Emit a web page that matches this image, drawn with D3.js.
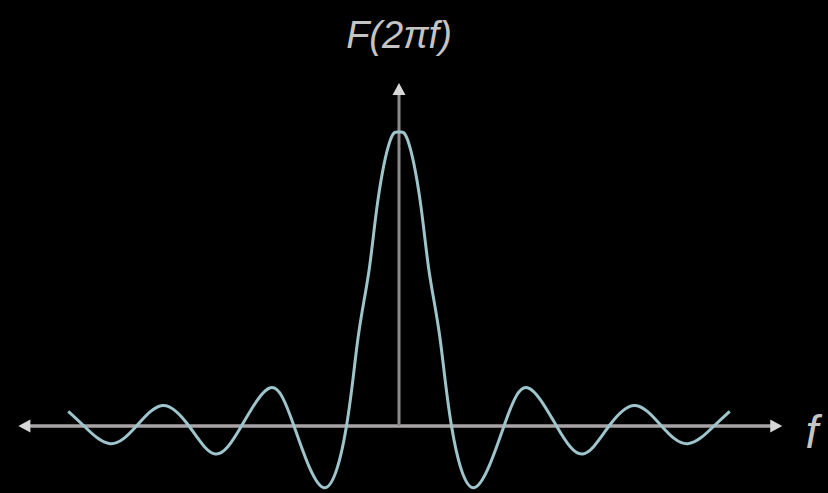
<!DOCTYPE html>
<html>
<head>
<meta charset="utf-8">
<script src="https://cdn.jsdelivr.net/npm/d3@7"></script>
<style>
  html, body { margin: 0; padding: 0; background: #000; }
  svg { display: block; }
</style>
</head>
<body>
<div id="chart"></div>
<script>
// frequency in units of the first zero, amplitude relative to the peak
const freq = [-6.3, -6.0, -5.5, -5.0, -4.5, -4.0, -3.5, -3.0, -2.45, -2.0, -1.43, -1.0,
  -0.78, -0.57, -0.4, -0.17, 0, 0.17, 0.4, 0.57, 0.78, 1.0,
  1.43, 2.0, 2.45, 3.0, 3.5, 4.0, 4.5, 5.0, 5.5, 6.0, 6.3];
const amp = [0.05, 0, -0.06, 0, 0.07, 0, -0.095, 0, 0.13, 0, -0.21, 0,
  0.30, 0.53, 0.77, 0.97, 1.0, 0.97, 0.77, 0.53, 0.30, 0,
  -0.21, 0, 0.13, 0, -0.095, 0, 0.07, 0, -0.06, 0, 0.05];

const xAxisExtent = [-7.25, 7.3];
const yAxisTop = 1.167;
const yLabel = 'F(2πf)';
const xLabel = 'f';

const width = 828;
const height = 493;

const svg = d3.select('#chart')
  .append('svg')
  .attr('width', width)
  .attr('height', height)
  .style('background', '#000');

const x = d3.scaleLinear()
  .domain([-1, 1])
  .range([399 - 52.5, 399 + 52.5]);

const y = d3.scaleLinear()
  .domain([0, 1])
  .range([426, 132]);

const axisColor = '#aaa4a6';
const headColor = '#d8d8d8';

// horizontal axis
svg.append('line')
  .attr('x1', x(xAxisExtent[0]) + 6)
  .attr('x2', x(xAxisExtent[1]) - 6)
  .attr('y1', y(0))
  .attr('y2', y(0))
  .attr('stroke', axisColor)
  .attr('stroke-width', 3.5);

// vertical axis
svg.append('line')
  .attr('x1', x(0))
  .attr('x2', x(0))
  .attr('y1', y(0))
  .attr('y2', y(yAxisTop) + 6)
  .attr('stroke', '#8d8a8e')
  .attr('stroke-width', 3);

// arrow heads
const arrow = (tx, ty, dir) => {
  const s = 12, w = 6.5;
  let pts;
  if (dir === 'left') pts = [[tx, ty], [tx + s, ty - w], [tx + s, ty + w]];
  if (dir === 'right') pts = [[tx, ty], [tx - s, ty - w], [tx - s, ty + w]];
  if (dir === 'up') pts = [[tx, ty], [tx - w, ty + s], [tx + w, ty + s]];
  svg.append('path')
    .attr('d', d3.line()(pts) + 'Z')
    .attr('fill', headColor);
};
arrow(x(xAxisExtent[0]), y(0), 'left');
arrow(x(xAxisExtent[1]), y(0), 'right');
arrow(x(0), y(yAxisTop), 'up');

// the curve
const data = freq.map((f, i) => ({ f, a: amp[i] }));
svg.append('path')
  .datum(data)
  .attr('fill', 'none')
  .attr('stroke', '#9ec4cc')
  .attr('stroke-width', 3)
  .attr('stroke-linejoin', 'round')
  .attr('d', d3.line()
    .x(d => x(d.f))
    .y(d => y(d.a))
    .curve(d3.curveNatural));

// labels
svg.append('text')
  .attr('x', x(0))
  .attr('y', 48)
  .attr('text-anchor', 'middle')
  .attr('fill', '#c4c4c4')
  .style('font-family', 'Liberation Sans, sans-serif')
  .style('font-style', 'italic')
  .style('font-size', '38px')
  .text(yLabel);

svg.append('text')
  .attr('x', 812)
  .attr('y', 448)
  .attr('text-anchor', 'middle')
  .attr('fill', '#c4c4c4')
  .style('font-family', 'Liberation Sans, sans-serif')
  .style('font-style', 'italic')
  .style('font-size', '46px')
  .text(xLabel);
</script>
</body>
</html>
